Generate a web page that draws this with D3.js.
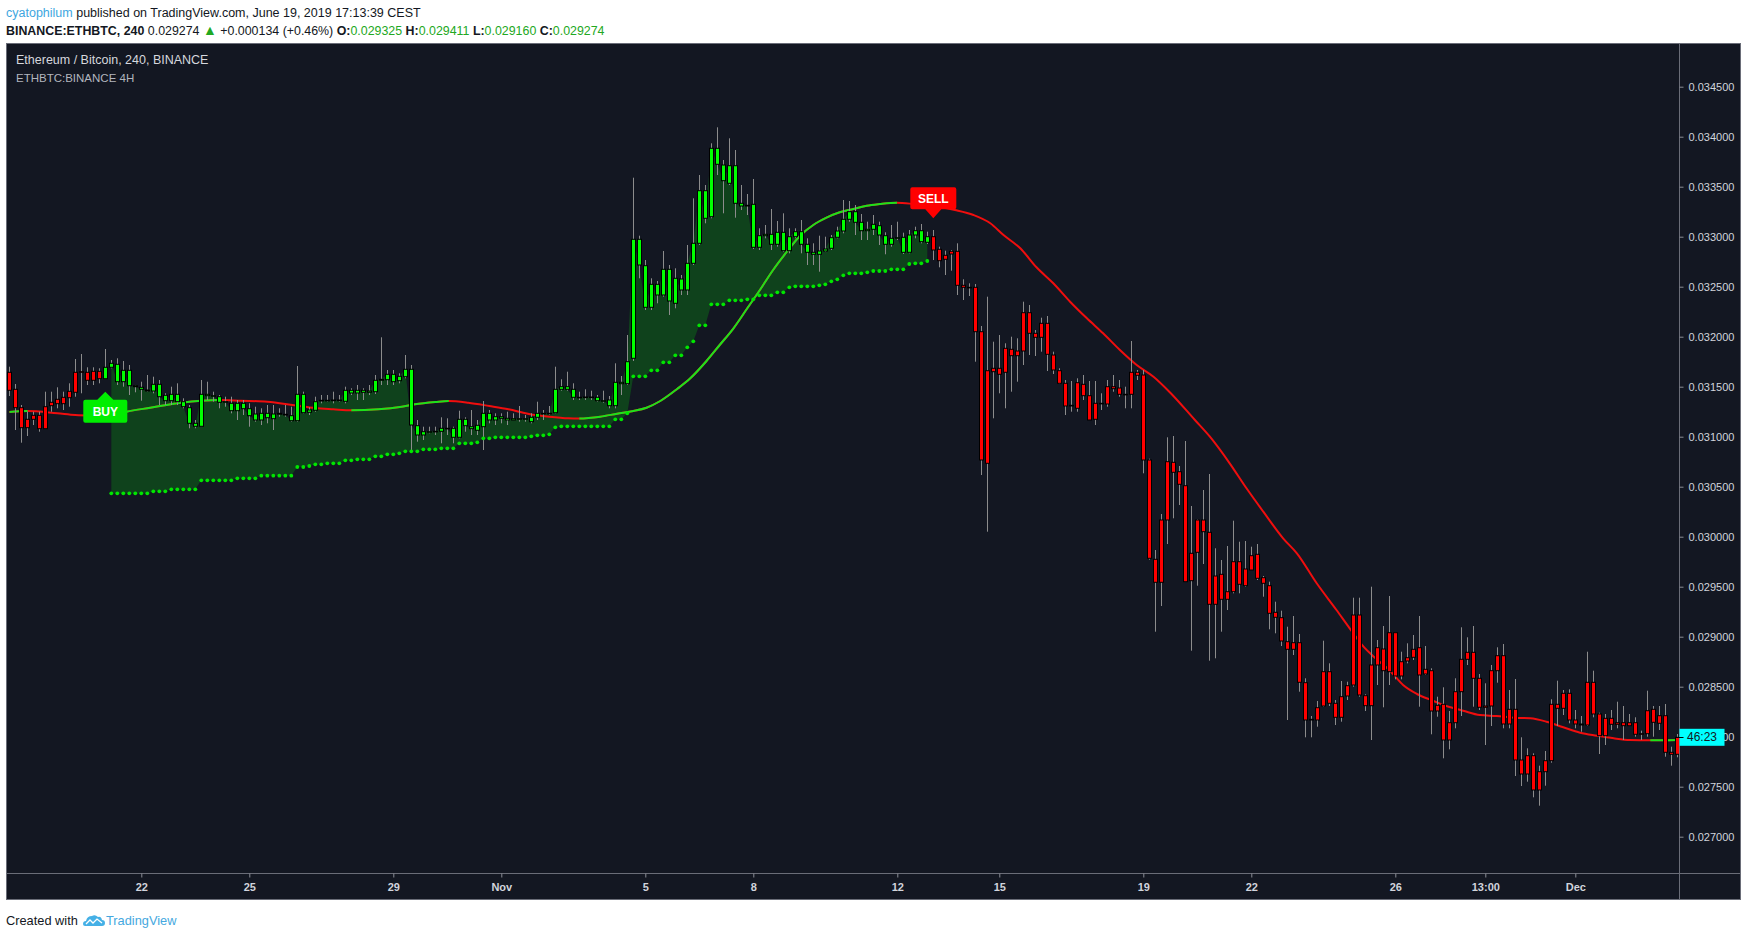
<!DOCTYPE html>
<html>
<head>
<meta charset="utf-8">
<script src="https://cdn.jsdelivr.net/npm/d3@7"></script>
<style>
  html, body { margin: 0; padding: 0; background: #fff; }
  svg { display: block; font-family: "Liberation Sans", Arial, sans-serif; }
</style>
</head>
<body>
<script>
// ETHBTC 4H candles, [open, high, low, close]
var ohlc = [
  [0.031644,0.031700,0.031407,0.031464],[0.031474,0.031527,0.031067,0.031290],[0.031290,0.031317,0.030940,0.031090],
  [0.031090,0.031250,0.031007,0.031174],[0.031174,0.031250,0.031117,0.031214],[0.031214,0.031250,0.031050,0.031080],
  [0.031080,0.031450,0.031080,0.031300],[0.031310,0.031450,0.031250,0.031344],[0.031330,0.031494,0.031284,0.031374],
  [0.031330,0.031450,0.031267,0.031394],[0.031390,0.031534,0.031300,0.031454],[0.031444,0.031777,0.031400,0.031644],
  [0.031644,0.031827,0.031434,0.031650],[0.031644,0.031694,0.031517,0.031564],[0.031564,0.031694,0.031517,0.031654],
  [0.031654,0.031684,0.031534,0.031580],[0.031580,0.031877,0.031580,0.031694],[0.031694,0.031767,0.031684,0.031734],
  [0.031724,0.031784,0.031517,0.031550],[0.031550,0.031757,0.031500,0.031664],[0.031664,0.031717,0.031417,0.031510],
  [0.031510,0.031517,0.031444,0.031500],[0.031494,0.031550,0.031360,0.031474],[0.031467,0.031617,0.031450,0.031457],
  [0.031457,0.031600,0.031434,0.031524],[0.031524,0.031567,0.031317,0.031400],[0.031414,0.031434,0.031317,0.031360],
  [0.031360,0.031500,0.031317,0.031424],[0.031424,0.031534,0.031317,0.031350],[0.031350,0.031384,0.031284,0.031300],
  [0.031290,0.031317,0.031084,0.031134],[0.031134,0.031167,0.031084,0.031104],[0.031104,0.031567,0.031104,0.031424],
  [0.031424,0.031550,0.031367,0.031410],[0.031410,0.031450,0.031350,0.031404],[0.031400,0.031417,0.031284,0.031344],
  [0.031344,0.031400,0.031300,0.031350],[0.031334,0.031400,0.031234,0.031260],[0.031260,0.031367,0.031167,0.031334],
  [0.031334,0.031367,0.031217,0.031280],[0.031280,0.031334,0.031100,0.031210],[0.031227,0.031300,0.031150,0.031167],
  [0.031167,0.031284,0.031117,0.031234],[0.031234,0.031317,0.031134,0.031190],[0.031180,0.031317,0.031067,0.031227],
  [0.031234,0.031284,0.031200,0.031224],[0.031224,0.031317,0.031200,0.031217],[0.031210,0.031300,0.031150,0.031160],
  [0.031160,0.031707,0.031150,0.031424],[0.031424,0.031450,0.031234,0.031240],[0.031244,0.031294,0.031217,0.031267],
  [0.031264,0.031400,0.031250,0.031350],[0.031357,0.031417,0.031334,0.031364],[0.031364,0.031417,0.031350,0.031360],
  [0.031360,0.031450,0.031334,0.031367],[0.031367,0.031417,0.031350,0.031360],[0.031354,0.031500,0.031334,0.031464],
  [0.031464,0.031484,0.031417,0.031437],[0.031437,0.031517,0.031367,0.031464],[0.031464,0.031484,0.031367,0.031444],
  [0.031444,0.031517,0.031417,0.031457],[0.031450,0.031617,0.031427,0.031564],[0.031564,0.031994,0.031517,0.031574],
  [0.031570,0.031667,0.031517,0.031624],[0.031624,0.031667,0.031517,0.031550],[0.031560,0.031634,0.031534,0.031604],
  [0.031600,0.031817,0.031584,0.031674],[0.031674,0.031717,0.030867,0.031117],[0.031110,0.031167,0.030950,0.031017],
  [0.031017,0.031100,0.030967,0.031050],[0.031050,0.031100,0.031034,0.031050],[0.031050,0.031100,0.031017,0.031054],
  [0.031054,0.031194,0.030934,0.031084],[0.031084,0.031184,0.031017,0.031084],[0.031084,0.031100,0.030934,0.030994],
  [0.030994,0.031260,0.030984,0.031174],[0.031174,0.031194,0.031050,0.031110],[0.031100,0.031267,0.031017,0.031080],
  [0.031064,0.031167,0.031017,0.031114],[0.031100,0.031357,0.030867,0.031234],[0.031234,0.031267,0.031134,0.031167],
  [0.031167,0.031234,0.031117,0.031200],[0.031200,0.031234,0.031134,0.031184],[0.031184,0.031250,0.031117,0.031167],
  [0.031167,0.031234,0.031167,0.031180],[0.031180,0.031307,0.031150,0.031180],[0.031180,0.031217,0.031150,0.031174],
  [0.031150,0.031234,0.031134,0.031194],[0.031194,0.031350,0.031167,0.031234],[0.031234,0.031267,0.031167,0.031234],
  [0.031234,0.031307,0.031217,0.031230],[0.031240,0.031700,0.031234,0.031474],[0.031474,0.031574,0.031460,0.031500],
  [0.031500,0.031650,0.031460,0.031474],[0.031474,0.031534,0.031367,0.031394],[0.031394,0.031450,0.031367,0.031394],
  [0.031394,0.031474,0.031367,0.031397],[0.031397,0.031460,0.031367,0.031394],[0.031394,0.031417,0.031350,0.031360],
  [0.031360,0.031460,0.031340,0.031360],[0.031367,0.031407,0.031284,0.031310],[0.031310,0.031734,0.031284,0.031544],
  [0.031544,0.031607,0.031417,0.031530],[0.031530,0.032017,0.031517,0.031750],[0.031784,0.033590,0.031757,0.032974],
  [0.032974,0.033010,0.032584,0.032717],[0.032710,0.032767,0.032267,0.032294],[0.032294,0.032584,0.032267,0.032524],
  [0.032524,0.032557,0.032334,0.032417],[0.032417,0.032857,0.032400,0.032674],[0.032674,0.032717,0.032217,0.032357],
  [0.032334,0.032684,0.032284,0.032584],[0.032577,0.032617,0.032417,0.032467],[0.032467,0.032917,0.032417,0.032734],
  [0.032734,0.033384,0.032717,0.032934],[0.032934,0.033617,0.032917,0.033460],[0.033460,0.033517,0.033134,0.033184],
  [0.033200,0.033934,0.033184,0.033884],[0.033884,0.034094,0.033617,0.033724],[0.033717,0.033767,0.033234,0.033560],
  [0.033534,0.033984,0.033517,0.033710],[0.033710,0.033867,0.033190,0.033334],[0.033334,0.033517,0.033267,0.033307],
  [0.033307,0.033427,0.033217,0.033314],[0.033324,0.033577,0.032877,0.032894],[0.032894,0.033084,0.032867,0.033010],
  [0.033010,0.033117,0.032984,0.033024],[0.033024,0.033277,0.032867,0.032924],[0.032924,0.033157,0.032900,0.033044],
  [0.033044,0.033234,0.032850,0.032860],[0.032860,0.033084,0.032834,0.033000],[0.033000,0.033084,0.032984,0.033050],
  [0.033050,0.033167,0.032834,0.032924],[0.032924,0.032984,0.032717,0.032844],[0.032844,0.032934,0.032717,0.032824],
  [0.032824,0.033010,0.032650,0.032857],[0.032857,0.033000,0.032850,0.032877],[0.032884,0.033017,0.032867,0.032990],
  [0.032994,0.033100,0.032984,0.033057],[0.033057,0.033367,0.033034,0.033174],[0.033174,0.033357,0.033150,0.033250],
  [0.033250,0.033317,0.033017,0.033144],[0.033144,0.033227,0.032967,0.033060],[0.033060,0.033150,0.032967,0.033074],
  [0.033074,0.033217,0.033017,0.033124],[0.033110,0.033150,0.032917,0.033017],[0.033010,0.033044,0.032824,0.032924],
  [0.032924,0.033117,0.032900,0.032984],[0.032984,0.033150,0.032967,0.032990],[0.032994,0.033040,0.032827,0.032844],
  [0.032844,0.033067,0.032834,0.033017],[0.033017,0.033100,0.032984,0.033060],[0.033060,0.033127,0.032934,0.032950],
  [0.032944,0.033050,0.032927,0.033000],[0.033000,0.033067,0.032767,0.032867],[0.032874,0.032900,0.032694,0.032760],
  [0.032774,0.032860,0.032617,0.032814],[0.032827,0.032867,0.032660,0.032854],[0.032854,0.032934,0.032417,0.032514],
  [0.032514,0.032574,0.032367,0.032494],[0.032494,0.032534,0.032407,0.032494],[0.032494,0.032527,0.031750,0.032050],
  [0.032050,0.032107,0.030617,0.030767],[0.030734,0.032400,0.030050,0.031660],[0.031650,0.031950,0.031184,0.031684],
  [0.031684,0.032017,0.031434,0.031624],[0.031644,0.031934,0.031284,0.031884],[0.031874,0.032000,0.031450,0.031810],
  [0.031810,0.031984,0.031550,0.031857],[0.031857,0.032350,0.031717,0.032240],[0.032240,0.032317,0.031817,0.032034],
  [0.032034,0.032067,0.031807,0.031994],[0.031994,0.032190,0.031850,0.032134],[0.032134,0.032207,0.031657,0.031824],
  [0.031817,0.031850,0.031627,0.031667],[0.031660,0.031684,0.031527,0.031534],[0.031534,0.031567,0.031217,0.031307],
  [0.031307,0.031557,0.031250,0.031314],[0.031284,0.031584,0.031250,0.031540],[0.031524,0.031617,0.031367,0.031410],
  [0.031410,0.031557,0.031167,0.031167],[0.031174,0.031557,0.031117,0.031334],[0.031334,0.031434,0.031267,0.031334],
  [0.031327,0.031567,0.031300,0.031500],[0.031500,0.031617,0.031450,0.031480],[0.031487,0.031567,0.031400,0.031424],
  [0.031424,0.031500,0.031284,0.031424],[0.031424,0.031957,0.031284,0.031644],[0.031644,0.031667,0.031567,0.031614],
  [0.031617,0.031667,0.030634,0.030767],[0.030767,0.030780,0.029770,0.029784],[0.029774,0.029867,0.029050,0.029544],
  [0.029544,0.030227,0.029307,0.030167],[0.030167,0.030994,0.029927,0.030750],[0.030744,0.031007,0.030184,0.030644],
  [0.030650,0.030707,0.030317,0.030524],[0.030510,0.030957,0.029550,0.029550],[0.029560,0.030307,0.028860,0.029834],
  [0.029844,0.030174,0.029510,0.030167],[0.030167,0.030467,0.029727,0.030050],[0.030044,0.030627,0.028760,0.029324],
  [0.029324,0.029884,0.028784,0.029607],[0.029624,0.029767,0.029050,0.029374],[0.029374,0.029907,0.029267,0.029450],
  [0.029450,0.030160,0.029434,0.029750],[0.029750,0.029950,0.029434,0.029524],[0.029510,0.029957,0.029500,0.029677],
  [0.029667,0.029900,0.029667,0.029810],[0.029824,0.029927,0.029567,0.029584],[0.029590,0.029607,0.029400,0.029534],
  [0.029510,0.029550,0.029074,0.029234],[0.029244,0.029350,0.029034,0.029194],[0.029190,0.029260,0.028907,0.028957],
  [0.028950,0.029100,0.028167,0.028874],[0.028940,0.029207,0.028817,0.028874],[0.028940,0.029027,0.028450,0.028544],
  [0.028540,0.028584,0.027994,0.028167],[0.028167,0.028207,0.027994,0.028174],[0.028167,0.028357,0.028100,0.028290],
  [0.028307,0.028960,0.028300,0.028650],[0.028650,0.028734,0.028307,0.028334],[0.028334,0.028367,0.028117,0.028194],
  [0.028194,0.028557,0.028150,0.028400],[0.028407,0.028550,0.028367,0.028510],[0.028517,0.029390,0.028500,0.029217],
  [0.029217,0.029390,0.028400,0.028417],[0.028410,0.028424,0.028257,0.028310],[0.028310,0.029500,0.027967,0.028717],
  [0.028717,0.028967,0.028517,0.028890],[0.028877,0.029107,0.028294,0.028660],[0.028650,0.029407,0.028517,0.029040],
  [0.029040,0.029040,0.028574,0.028607],[0.028607,0.028850,0.028574,0.028750],[0.028757,0.028934,0.028734,0.028790],
  [0.028794,0.029017,0.028767,0.028874],[0.028890,0.029207,0.028300,0.028617],[0.028627,0.028907,0.028617,0.028674],
  [0.028660,0.028684,0.028024,0.028257],[0.028257,0.028400,0.028200,0.028314],[0.028324,0.028494,0.027784,0.027967],
  [0.027967,0.028257,0.027874,0.028140],[0.028140,0.028584,0.028084,0.028450],[0.028450,0.029094,0.028207,0.028774],
  [0.028774,0.028994,0.028717,0.028844],[0.028844,0.029107,0.028300,0.028584],[0.028584,0.028627,0.028267,0.028294],
  [0.028294,0.028534,0.027917,0.028307],[0.028307,0.028717,0.028107,0.028660],[0.028660,0.028894,0.028540,0.028810],
  [0.028810,0.028927,0.028084,0.028127],[0.028127,0.028467,0.028084,0.028274],[0.028274,0.028577,0.027607,0.027767],
  [0.027767,0.027994,0.027507,0.027627],[0.027627,0.027884,0.027550,0.027810],[0.027810,0.027834,0.027394,0.027467],
  [0.027467,0.027710,0.027310,0.027650],[0.027650,0.027857,0.027510,0.027760],[0.027760,0.028374,0.027740,0.028324],
  [0.028324,0.028560,0.028107,0.028284],[0.028284,0.028467,0.028217,0.028434],[0.028434,0.028474,0.028134,0.028167],
  [0.028167,0.028267,0.028084,0.028127],[0.028127,0.028207,0.028050,0.028117],[0.028117,0.028850,0.028107,0.028544],
  [0.028544,0.028660,0.028194,0.028227],[0.028227,0.028240,0.027827,0.028010],[0.028010,0.028227,0.027917,0.028184],
  [0.028184,0.028267,0.028067,0.028124],[0.028124,0.028350,0.028084,0.028140],[0.028140,0.028307,0.027967,0.028110],
  [0.028110,0.028227,0.028107,0.028140],[0.028140,0.028194,0.028000,0.028024],[0.028024,0.028060,0.027967,0.028030],
  [0.028030,0.028460,0.028000,0.028260],[0.028144,0.028307,0.028000,0.028274],[0.028134,0.028307,0.028067,0.028210],
  [0.028210,0.028327,0.027800,0.027844],[0.027844,0.027900,0.027710,0.027824],[0.027824,0.028027,0.027794,0.027994]
];

// signals from the strategy
var buyIndex = 16, sellIndex = 154;
var signals = [
  {i: 16, price: 0.031450, text: "BUY", dir: "up"},
  {i: 154, price: 0.033184, text: "SELL", dir: "down"}
];

// trailing stop (dots), one value per candle from stopStart
var stopStart = 17;
var stop = [
  0.030434,0.030434,0.030434,0.030434,0.030434,0.030434,0.030434,0.030454,0.030454,0.030454,
  0.030474,0.030474,0.030474,0.030474,0.030474,0.030564,0.030564,0.030564,0.030564,0.030564,
  0.030564,0.030584,0.030584,0.030584,0.030584,0.030610,0.030610,0.030610,0.030610,0.030610,
  0.030610,0.030697,0.030697,0.030707,0.030724,0.030724,0.030734,0.030734,0.030734,0.030764,
  0.030764,0.030774,0.030774,0.030774,0.030804,0.030804,0.030824,0.030824,0.030834,0.030854,
  0.030854,0.030854,0.030874,0.030874,0.030874,0.030884,0.030884,0.030884,0.030934,0.030934,
  0.030934,0.030944,0.030984,0.030984,0.030994,0.030994,0.030994,0.030994,0.030994,0.030994,
  0.031004,0.031014,0.031014,0.031024,0.031094,0.031104,0.031104,0.031104,0.031104,0.031104,
  0.031104,0.031104,0.031104,0.031104,0.031174,0.031174,0.031234,0.031604,0.031604,0.031604,
  0.031664,0.031664,0.031744,0.031744,0.031814,0.031814,0.031894,0.031954,0.032114,0.032114,
  0.032324,0.032324,0.032324,0.032364,0.032364,0.032364,0.032374,0.032374,0.032414,0.032414,
  0.032414,0.032444,0.032444,0.032494,0.032504,0.032504,0.032504,0.032504,0.032514,0.032524,
  0.032554,0.032574,0.032614,0.032634,0.032634,0.032634,0.032644,0.032657,0.032657,0.032657,
  0.032674,0.032674,0.032674,0.032727,0.032734,0.032734,0.032757
];

// moving average, read at candle positions
var maIndex = [0,3,8,11,14,16,19.5,23.5,28.6,32,35,38.6,43,47.5,51,54,57,61.5,65.4,67.6,71,73.2,76.5,80,83.2,86.6,90,93.2,95,
  98.5,101.3,104,106.2,108.5,111.3,113.5,116.2,118.4,120.7,123,125.1,127.3,129.6,131.8,134,136.2,138.4,140.7,142.9,145.1,147.9,
  150.7,157.6,160.7,163.5,165.7,168.5,171.2,174,176.8,179.6,182.3,185.1,187.9,190.7,193.5,197.6,200.1,203.4,206.2,209,212.3,
  214.6,217.9,221.2,223.4,225.7,227.9,230.1,232.3,234.6,237.3,239.5,242.3,245.1,247.9,250.7,253.5,256.2,259,261.8,264.6,
  267.4,270.1,273.5,278];
var maValue = [0.031247,0.031257,0.031234,0.031217,0.031210,0.031208,0.031250,0.031290,0.031340,0.031360,0.031367,0.031360,
  0.031350,0.031314,0.031286,0.031274,0.031264,0.031274,0.031300,0.031324,0.031347,0.031357,0.031340,0.031307,0.031274,
  0.031227,0.031200,0.031184,0.031182,0.031200,0.031230,0.031257,0.031290,0.031357,0.031477,0.031584,0.031757,0.031917,
  0.032084,0.032284,0.032467,0.032667,0.032850,0.033010,0.033117,0.033190,0.033244,0.033277,0.033310,0.033327,0.033340,
  0.033327,0.033267,0.033217,0.033134,0.033017,0.032884,0.032694,0.032534,0.032350,0.032184,0.032034,0.031867,0.031717,
  0.031600,0.031440,0.031167,0.031000,0.030734,0.030484,0.030250,0.029984,0.029834,0.029534,0.029267,0.029084,0.028900,
  0.028774,0.028660,0.028517,0.028427,0.028360,0.028307,0.028260,0.028217,0.028207,0.028190,0.028184,0.028150,0.028094,
  0.028040,0.028010,0.027984,0.027967,0.027964,0.027967];

// axes
var timeTicks = [22, 40, 64, 82, 106, 124, 148, 165, 189, 207, 231, 246, 261];
var timeLabels = ["22", "25", "29", "Nov", "5", "8", "12", "15", "19", "22", "26", "13:00", "Dec"];
var priceTicks = [0.0345, 0.034, 0.0335, 0.033, 0.0325, 0.032, 0.0315, 0.031, 0.0305, 0.030, 0.0295, 0.029, 0.0285, 0.028, 0.0275, 0.027];

var width = 1748, height = 937;
var frame = {left: 6, top: 43, right: 1741, bottom: 900};
var axisX = 1679.5, axisY = 873.5;

var svg = d3.select("body").append("svg")
    .attr("width", width)
    .attr("height", height);
var defs = svg.append("defs");

svg.append("rect").attr("width", width).attr("height", height).attr("fill", "#fff");

// chart panel
svg.append("rect")
    .attr("x", frame.left + 0.5).attr("y", frame.top + 0.5)
    .attr("width", frame.right - frame.left - 1).attr("height", frame.bottom - frame.top - 1)
    .attr("fill", "#131722").attr("stroke", "#6a6d78");

var x = d3.scaleLinear().domain([0, ohlc.length - 1]).range([9.3, 1677.3]);
var y = d3.scaleLinear().domain([0.027, 0.0345]).range([836.7, 86.7]);

defs.append("clipPath").attr("id", "plotClip").append("rect")
    .attr("x", frame.left + 1).attr("y", frame.top + 1)
    .attr("width", axisX - frame.left - 1.5).attr("height", axisY - frame.top - 1.5);

var plot = svg.append("g").attr("clip-path", "url(#plotClip)");

// shaded zone between trailing stop and close
var zone = stop.map(function(s, j) {
  return {i: stopStart + j, s: s, c: ohlc[stopStart + j][3]};
});
plot.append("path")
    .datum(zone)
    .attr("fill", "#0f421c")
    .attr("d", d3.area()
      .x(function(d) { return x(d.i); })
      .y0(function(d) { return y(d.s); })
      .y1(function(d) { return y(d.c); }));

// moving average: red when falling, green when rising
var maPts = maIndex.map(function(k, j) { return [k, maValue[j]]; });
var maLine = d3.line()
    .x(function(d) { return x(d[0]); })
    .y(function(d) { return y(d[1]); })
    .curve(d3.curveMonotoneX);
var rising = d3.pairs(maPts).filter(function(p) { return p[1][1] > p[0][1]; });
defs.append("clipPath").attr("id", "maUp")
  .selectAll("rect").data(rising).join("rect")
    .attr("x", function(p) { return x(p[0][0]); })
    .attr("width", function(p) { return x(p[1][0]) - x(p[0][0]) + 0.3; })
    .attr("y", 0).attr("height", height);

plot.append("path").datum(maPts)
    .attr("fill", "none").attr("stroke", "#f00e0e").attr("stroke-width", 2)
    .attr("d", maLine);
plot.append("g").attr("clip-path", "url(#maUp)")
  .append("path").datum(maPts)
    .attr("fill", "none").attr("stroke", "#1be31b").attr("stroke-width", 2)
    .attr("d", maLine);

// candles
var candle = plot.append("g").selectAll("g")
    .data(ohlc)
  .enter().append("g");

candle.append("line")
    .attr("x1", function(d, i) { return Math.round(x(i)) + 0.5; })
    .attr("x2", function(d, i) { return Math.round(x(i)) + 0.5; })
    .attr("y1", function(d) { return y(d[1]); })
    .attr("y2", function(d) { return y(d[2]); })
    .attr("stroke", "#8c8c8c").attr("stroke-width", 1);

candle.append("rect")
    .attr("x", function(d, i) { return Math.round(x(i)) - 1.5; })
    .attr("width", 4)
    .attr("y", function(d) { return y(Math.max(d[0], d[3])); })
    .attr("height", function(d) { return Math.max(0.6, Math.abs(y(d[0]) - y(d[3]))); })
    .attr("fill", function(d, i) { return (i >= buyIndex && i < sellIndex) ? "#00ff00" : "#ff0000"; })
    .attr("stroke", "#000").attr("stroke-width", 1);

// trailing stop dots
plot.append("g").selectAll("circle")
    .data(stop)
  .enter().append("circle")
    .attr("cx", function(d, j) { return x(stopStart + j); })
    .attr("cy", function(d) { return y(d); })
    .attr("r", 1.9)
    .attr("fill", "#00e600");

// BUY / SELL labels
var sig = plot.append("g").selectAll("g")
    .data(signals)
  .enter().append("g")
    .attr("transform", function(d) { return "translate(" + x(d.i) + "," + y(d.price) + ")"; });

sig.append("path")
    .attr("d", function(d) {
      var w = d.text.length > 3 ? 21 : 20;
      if (d.dir === "up")
        return "M0,0 L8,8 L" + w + ",8 Q" + (w + 2) + ",8 " + (w + 2) + ",10 L" + (w + 2) + ",29 Q" + (w + 2) + ",31 " + w + ",31 L" + (-w) + ",31 Q" + (-w - 2) + ",31 " + (-w - 2) + ",29 L" + (-w - 2) + ",10 Q" + (-w - 2) + ",8 " + (-w) + ",8 L-8,8 Z";
      return "M0,0 L8,-9 L" + w + ",-9 Q" + (w + 2) + ",-9 " + (w + 2) + ",-11 L" + (w + 2) + ",-29 Q" + (w + 2) + ",-31 " + w + ",-31 L" + (-w) + ",-31 Q" + (-w - 2) + ",-31 " + (-w - 2) + ",-29 L" + (-w - 2) + ",-11 Q" + (-w - 2) + ",-9 " + (-w) + ",-9 L-8,-9 Z";
    })
    .attr("fill", function(d) { return d.dir === "up" ? "#00ee00" : "#ff0000"; });

sig.append("text")
    .attr("text-anchor", "middle")
    .attr("y", function(d) { return d.dir === "up" ? 24 : -15.5; })
    .attr("fill", "#fff")
    .attr("font-size", 12)
    .attr("font-weight", "bold")
    .text(function(d) { return d.text; });

// axis lines
svg.append("line").attr("x1", axisX).attr("x2", axisX)
    .attr("y1", frame.top).attr("y2", frame.bottom).attr("stroke", "#6a6d78");
svg.append("line").attr("x1", frame.left).attr("x2", frame.right)
    .attr("y1", axisY).attr("y2", axisY).attr("stroke", "#6a6d78");

// price axis
var gy = svg.append("g")
    .attr("transform", "translate(" + axisX + ",0)")
    .call(d3.axisRight(y).tickValues(priceTicks).tickFormat(d3.format(".6f")).tickSize(4).tickPadding(5));
gy.select(".domain").remove();
gy.attr("font-family", "'Liberation Sans', Arial, sans-serif").attr("font-size", 11);
gy.selectAll(".tick line").attr("stroke", "#8a8d96");
gy.selectAll(".tick text").attr("fill", "#d1d4dc");

// time axis
var gx = svg.append("g")
    .attr("transform", "translate(0," + axisY + ")")
    .call(d3.axisBottom(x).tickValues(timeTicks)
      .tickFormat(function(d, i) { return timeLabels[i]; })
      .tickSize(4).tickPadding(6));
gx.select(".domain").remove();
gx.attr("font-family", "'Liberation Sans', Arial, sans-serif").attr("font-size", 11).attr("font-weight", "bold");
gx.selectAll(".tick line").attr("stroke", "#8a8d96");
gx.selectAll(".tick text").attr("fill", "#d1d4dc");

// last price countdown
var lastClose = ohlc[ohlc.length - 1][3];
svg.append("rect")
    .attr("x", axisX).attr("y", y(lastClose) - 8.5)
    .attr("width", 45).attr("height", 17)
    .attr("fill", "#00ffff");
svg.append("line")
    .attr("x1", axisX - 4).attr("x2", axisX + 4)
    .attr("y1", Math.round(y(lastClose)) + 0.5).attr("y2", Math.round(y(lastClose)) + 0.5)
    .attr("stroke", "#000");
svg.append("text")
    .attr("x", axisX + 22.5).attr("y", y(lastClose) + 4)
    .attr("text-anchor", "middle")
    .attr("font-size", 12).attr("fill", "#131722")
    .text("46:23");

// chart titles
svg.append("text").attr("x", 16).attr("y", 64)
    .attr("font-size", 12.5).attr("fill", "#d6d8de")
    .text("Ethereum / Bitcoin, 240, BINANCE");
svg.append("text").attr("x", 16).attr("y", 82)
    .attr("font-size", 11.5).attr("fill", "#b2b5be")
    .text("ETHBTC:BINANCE 4H");

// header
var h1 = svg.append("text").attr("x", 6).attr("y", 17)
    .attr("font-size", 12.5).attr("fill", "#131722");
h1.append("tspan").attr("fill", "#3ea6e0").text("cyatophilum");
h1.append("tspan").text(" published on TradingView.com, June 19, 2019 17:13:39 CEST");

var up = "#22a822";
var h2 = svg.append("text").attr("x", 6).attr("y", 35)
    .attr("font-size", 12.4).attr("fill", "#131722");
h2.append("tspan").attr("font-weight", "bold").text("BINANCE:ETHBTC, 240");
h2.append("tspan").text(" 0.029274 ");
h2.append("tspan").attr("fill", up).attr("font-size", 14).text("\u25B2");
h2.append("tspan").text(" +0.000134 (+0.46%) ");
[["O:", "0.029325"], ["H:", "0.029411"], ["L:", "0.029160"], ["C:", "0.029274"]].forEach(function(p, i) {
  h2.append("tspan").attr("font-weight", "bold").text((i ? " " : "") + p[0]);
  h2.append("tspan").attr("fill", up).text(p[1]);
});

// footer
var foot = svg.append("g").attr("transform", "translate(6,925)");
foot.append("text").attr("font-size", 12.8).attr("fill", "#131722").text("Created with");
var logo = foot.append("g").attr("transform", "translate(77,-11)");
logo.append("path")
    .attr("d", "M2,12 Q0,12 0,10 Q0,7 3,7 Q4,2 9,2 Q12,0 15,3 Q18,2 19,6 Q22,6 22,9 Q22,12 19,12 Z")
    .attr("fill", "#45b0e6");
logo.append("path")
    .attr("d", "M3,10 L7,6 L10,9 L14,5 L19,9")
    .attr("fill", "none").attr("stroke", "#fff").attr("stroke-width", 1.3);
foot.append("text").attr("x", 100).attr("font-size", 12.8).attr("fill", "#45a8e0").text("TradingView");
</script>
</body>
</html>
